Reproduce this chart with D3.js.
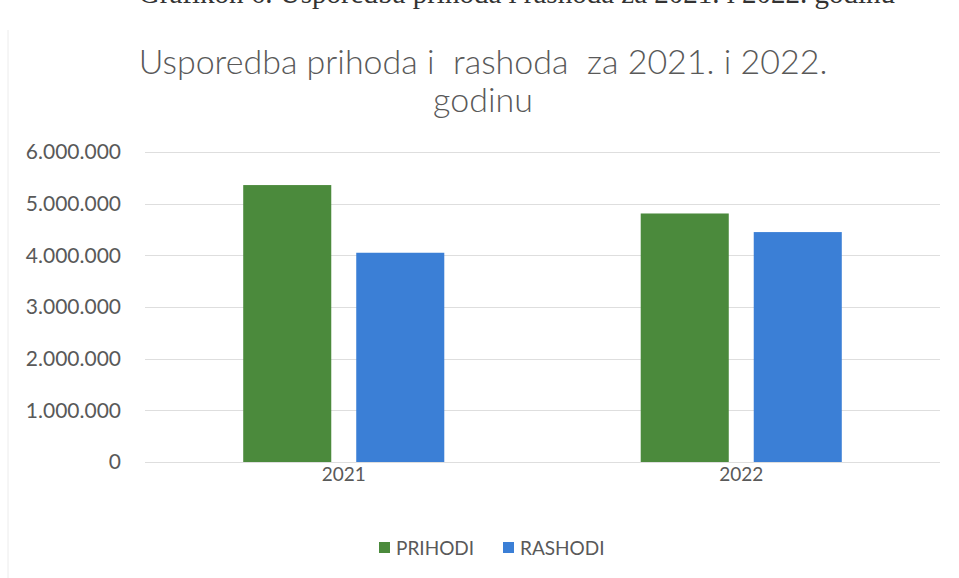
<!DOCTYPE html>
<meta charset="utf-8">
<style>
body { margin: 0; background: #fff; }
svg { display: block; background-color: #fff; }
.grid line { stroke: #dedede; stroke-width: 1; }
.tick-label { fill: #595959; font-family: Lato, "Open Sans", sans-serif; font-weight: 400; }
.title { fill: #595959; font-family: Lato, "Open Sans", sans-serif; font-weight: 300; }
.caption { fill: #333; font-family: "Liberation Serif", "DejaVu Serif", serif; }
</style>
<body>
<svg id="chart"></svg>
<script src="https://d3js.org/d3.v7.min.js"></script>
<script>

var years = ["2021", "2022"];
var series = ["PRIHODI", "RASHODI"];
var prihodi = [5360000, 4810000];
var rashodi = [4050000, 4450000];
var yTicks = [0, 1000000, 2000000, 3000000, 4000000, 5000000, 6000000];

var colors = { PRIHODI: "#4b8a3c", RASHODI: "#3b7fd6" };

var width = 959, height = 578;
var plot = { left: 145, right: 940, top: 152, bottom: 462 };

var svg = d3.select("#chart")
  .attr("width", width)
  .attr("height", height);

// caption of the page, cut off at the top edge
svg.append("text")
  .attr("class", "caption")
  .attr("x", 517)
  .attr("y", 3)
  .attr("text-anchor", "middle")
  .style("font-size", "29px")
  .text("Grafikon 6. Usporedba prihoda i rashoda za 2021. i 2022. godinu");

// faint left border of the chart box
svg.append("line")
  .attr("x1", 8).attr("x2", 8)
  .attr("y1", 30).attr("y2", height)
  .attr("stroke", "#ececec");

// title
var title = svg.append("text")
  .attr("class", "title")
  .attr("text-anchor", "middle")
  .style("white-space", "pre")
  .style("font-size", "34px");
title.append("tspan").attr("x", 483).attr("y", 74).text("Usporedba prihoda i  rashoda  za 2021. i 2022.");
title.append("tspan").attr("x", 483).attr("y", 112).text("godinu");

var y = d3.scaleLinear()
  .domain([0, 6000000])
  .range([plot.bottom, plot.top]);

var x0 = d3.scaleBand()
  .domain(years)
  .range([plot.left, plot.right]);

var x1 = d3.scaleBand()
  .domain(series)
  .range([0, x0.bandwidth()])
  .paddingInner(0.221)
  .paddingOuter(0.869);

var fmt = function(d) {
  return d3.format(",")(d).replace(/,/g, ".");
};

// gridlines
svg.append("g")
  .attr("class", "grid")
  .selectAll("line")
  .data(yTicks)
  .enter().append("line")
  .attr("x1", plot.left)
  .attr("x2", plot.right)
  .attr("y1", function(d) { return Math.round(y(d)) + 0.5; })
  .attr("y2", function(d) { return Math.round(y(d)) + 0.5; });

// y axis labels
var yAxis = d3.axisLeft(y).tickValues(yTicks).tickFormat(fmt).tickSize(0).tickPadding(0);
var gy = svg.append("g")
  .attr("transform", "translate(121,0)")
  .call(yAxis);
gy.select(".domain").remove();
gy.selectAll("text")
  .attr("class", "tick-label")
  .attr("fill", null)
  .style("font-size", "21px");

// bars
var rows = years.map(function(yr, i) {
  return { year: yr, values: [
    { key: "PRIHODI", value: prihodi[i] },
    { key: "RASHODI", value: rashodi[i] }
  ] };
});

svg.append("g")
  .selectAll("g")
  .data(rows)
  .enter().append("g")
  .attr("transform", function(d) { return "translate(" + x0(d.year) + ",0)"; })
  .selectAll("rect")
  .data(function(d) { return d.values; })
  .enter().append("rect")
  .attr("x", function(d) { return x1(d.key); })
  .attr("width", x1.bandwidth())
  .attr("y", function(d) { return y(d.value); })
  .attr("height", function(d) { return y(0) - y(d.value); })
  .attr("fill", function(d) { return colors[d.key]; });

// x axis labels
var xAxis = d3.axisBottom(x0).tickSize(0).tickPadding(0);
var gx = svg.append("g")
  .attr("transform", "translate(0,467)")
  .call(xAxis);
gx.select(".domain").remove();
gx.selectAll("text")
  .attr("class", "tick-label")
  .attr("fill", null)
  .style("font-size", "19px");

// legend
var legend = svg.append("g").attr("transform", "translate(0,548)");
var legX = [381, 505];
var item = legend.selectAll("g")
  .data(series)
  .enter().append("g")
  .attr("transform", function(d, i) { return "translate(" + legX[i] + ",0)"; });
item.append("rect")
  .attr("x", -2).attr("y", -6)
  .attr("width", 11).attr("height", 11)
  .attr("fill", function(d) { return colors[d]; });
item.append("text")
  .attr("class", "tick-label")
  .attr("x", 15)
  .attr("y", 0)
  .attr("dy", "0.36em")
  .style("font-size", "19px")
  .text(function(d) { return d; });

</script>
